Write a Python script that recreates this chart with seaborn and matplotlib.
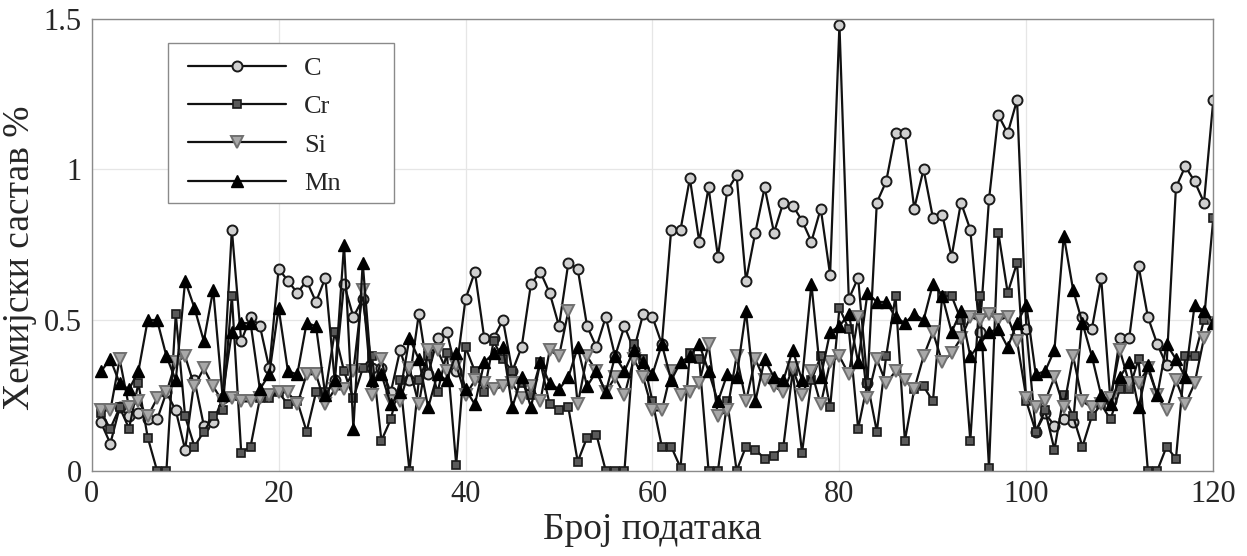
import numpy as np
import pandas as pd
import matplotlib
matplotlib.use("Agg")
import matplotlib.pyplot as plt
from matplotlib.patches import Rectangle
import seaborn as sns

# Sample index (x axis)
sample = list(range(1, 121))

# Chemical composition, % per sample
carbon = [
    0.16, 0.09, 0.21, 0.18, 0.19, 0.17, 0.17, 0.26, 0.20, 0.07,
    0.30, 0.15, 0.16, 0.24, 0.80, 0.43, 0.51, 0.48, 0.34, 0.67,
    0.63, 0.59, 0.63, 0.56, 0.64, 0.30, 0.62, 0.51, 0.57, 0.34,
    0.34, 0.26, 0.40, 0.30, 0.52, 0.32, 0.44, 0.46, 0.33, 0.57,
    0.66, 0.44, 0.44, 0.50, 0.33, 0.41, 0.62, 0.66, 0.59, 0.48,
    0.69, 0.67, 0.48, 0.41, 0.51, 0.38, 0.48, 0.40, 0.52, 0.51,
    0.42, 0.80, 0.80, 0.97, 0.76, 0.94, 0.71, 0.93, 0.98, 0.63,
    0.79, 0.94, 0.79, 0.89, 0.88, 0.83, 0.76, 0.87, 0.65, 1.48,
    0.57, 0.64, 0.29, 0.89, 0.96, 1.12, 1.12, 0.87, 1.00, 0.84,
    0.85, 0.71, 0.89, 0.80, 0.46, 0.90, 1.18, 1.12, 1.23, 0.47,
    0.13, 0.19, 0.15, 0.17, 0.16, 0.51, 0.47, 0.64, 0.23, 0.44,
    0.44, 0.68, 0.51, 0.42, 0.35, 0.94, 1.01, 0.96, 0.89, 1.23,
]
chromium = [
    0.19, 0.14, 0.21, 0.14, 0.29, 0.11, 0.00, 0.00, 0.52, 0.18,
    0.08, 0.13, 0.18, 0.20, 0.58, 0.06, 0.08, 0.24, 0.24, 0.26,
    0.22, 0.23, 0.13, 0.26, 0.26, 0.46, 0.33, 0.24, 0.34, 0.38,
    0.10, 0.17, 0.30, 0.00, 0.30, 0.38, 0.26, 0.39, 0.02, 0.41,
    0.33, 0.26, 0.43, 0.37, 0.33, 0.29, 0.25, 0.36, 0.22, 0.20,
    0.21, 0.03, 0.11, 0.12, 0.00, 0.00, 0.00, 0.42, 0.37, 0.23,
    0.08, 0.08, 0.01, 0.39, 0.37, 0.00, 0.00, 0.23, 0.00, 0.08,
    0.07, 0.04, 0.05, 0.08, 0.33, 0.06, 0.30, 0.38, 0.21, 0.54,
    0.47, 0.14, 0.29, 0.13, 0.38, 0.58, 0.10, 0.27, 0.28, 0.23,
    0.58, 0.58, 0.50, 0.10, 0.58, 0.01, 0.79, 0.59, 0.69, 0.23,
    0.13, 0.20, 0.07, 0.25, 0.18, 0.08, 0.18, 0.22, 0.17, 0.27,
    0.27, 0.37, 0.00, 0.00, 0.08, 0.04, 0.38, 0.38, 0.50, 0.84,
]
silicon = [
    0.20, 0.20, 0.37, 0.21, 0.23, 0.18, 0.24, 0.26, 0.36, 0.38,
    0.28, 0.34, 0.28, 0.23, 0.24, 0.23, 0.23, 0.24, 0.25, 0.26,
    0.26, 0.22, 0.32, 0.32, 0.22, 0.27, 0.27, 0.33, 0.60, 0.25,
    0.37, 0.23, 0.23, 0.34, 0.22, 0.40, 0.40, 0.33, 0.35, 0.25,
    0.30, 0.29, 0.27, 0.28, 0.29, 0.24, 0.28, 0.23, 0.40, 0.38,
    0.53, 0.22, 0.38, 0.33, 0.26, 0.31, 0.25, 0.37, 0.31, 0.20,
    0.20, 0.33, 0.25, 0.26, 0.29, 0.42, 0.18, 0.20, 0.38, 0.23,
    0.37, 0.30, 0.28, 0.26, 0.34, 0.25, 0.33, 0.22, 0.36, 0.38,
    0.32, 0.51, 0.24, 0.37, 0.29, 0.33, 0.30, 0.27, 0.38, 0.46,
    0.36, 0.39, 0.44, 0.51, 0.50, 0.52, 0.50, 0.51, 0.43, 0.24,
    0.21, 0.23, 0.31, 0.21, 0.38, 0.23, 0.21, 0.22, 0.24, 0.40,
    0.29, 0.29, 0.34, 0.25, 0.20, 0.30, 0.22, 0.29, 0.44, 0.49,
]
manganese = [
    0.33, 0.37, 0.29, 0.27, 0.33, 0.50, 0.50, 0.38, 0.30, 0.63,
    0.54, 0.43, 0.60, 0.25, 0.46, 0.49, 0.49, 0.27, 0.32, 0.54,
    0.33, 0.32, 0.49, 0.48, 0.25, 0.30, 0.75, 0.14, 0.69, 0.30,
    0.32, 0.22, 0.26, 0.44, 0.37, 0.21, 0.32, 0.30, 0.39, 0.27,
    0.22, 0.36, 0.39, 0.41, 0.21, 0.31, 0.21, 0.36, 0.29, 0.27,
    0.31, 0.41, 0.28, 0.33, 0.26, 0.38, 0.33, 0.40, 0.36, 0.32,
    0.42, 0.30, 0.36, 0.38, 0.42, 0.33, 0.23, 0.32, 0.31, 0.53,
    0.23, 0.37, 0.31, 0.30, 0.40, 0.30, 0.62, 0.31, 0.46, 0.48,
    0.52, 0.36, 0.59, 0.56, 0.56, 0.51, 0.49, 0.52, 0.50, 0.62,
    0.58, 0.46, 0.53, 0.38, 0.42, 0.46, 0.47, 0.41, 0.49, 0.55,
    0.32, 0.33, 0.40, 0.78, 0.60, 0.49, 0.38, 0.25, 0.22, 0.31,
    0.36, 0.21, 0.35, 0.25, 0.42, 0.37, 0.31, 0.55, 0.53, 0.49,
]

series_names = ["C", "Cr", "Si", "Mn"]
x_ticks = [0, 20, 40, 60, 80, 100, 120]
y_ticks = [0, 0.5, 1, 1.5]
y_tick_labels = ["0", "0.5", "1", "1.5"]

df = pd.DataFrame({"sample": sample, "C": carbon, "Cr": chromium,
                   "Si": silicon, "Mn": manganese})

sns.set_theme(style="white")
plt.rcParams["font.family"] = ["Liberation Serif", "DejaVu Serif"]

fig = plt.figure(figsize=(12.47, 5.56), dpi=100)
ax = fig.add_axes([0.0735, 0.1534, 0.8995, 0.813])

styles = {
    "C":  dict(marker="o", markersize=7.2, markerfacecolor="#d0d0d0",
               markeredgecolor="#1a1a1a", markeredgewidth=1.4),
    "Cr": dict(marker="s", markersize=6.2, markerfacecolor="#5a5a5a",
               markeredgecolor="#1a1a1a", markeredgewidth=1.2),
    "Si": dict(marker="v", markersize=8.5, markerfacecolor="#a8a8a8",
               markeredgecolor="#707070", markeredgewidth=1.4),
    "Mn": dict(marker="^", markersize=8.5, markerfacecolor="#000000",
               markeredgecolor="#000000", markeredgewidth=1.0),
}

for name in series_names:
    sns.lineplot(data=df, x="sample", y=name, ax=ax, color="#111111",
                 linewidth=1.6, label=name, **styles[name])

ax.set_xlim(0, 120)
ax.set_ylim(0, 1.5)
ax.set_xticks(x_ticks)
ax.set_yticks(y_ticks)
ax.set_yticklabels(y_tick_labels)
ax.tick_params(axis="both", direction="in", length=6, width=0.8,
               color="#808080", labelsize=22, pad=7)
ax.grid(True, color="#e6e6e6", linewidth=0.9)
ax.set_axisbelow(True)
for sp in ax.spines.values():
    sp.set_color("#8a8a8a")
    sp.set_linewidth(1.0)

ax.set_xlabel("Број података", fontsize=27, labelpad=2)
ax.set_ylabel("Хемијски састав %", fontsize=27)
ax.yaxis.set_label_coords(-0.049, 0.472)

# Legend entries (frame drawn separately as a fixed box)
leg = ax.legend(loc="center left", bbox_to_anchor=(0.0859, 0.763),
                fontsize=19, frameon=False, handlelength=3.7,
                handletextpad=0.7, labelspacing=0.56,
                borderpad=0.0, borderaxespad=0.0)
leg.set_zorder(6)
frame = Rectangle((0.068, 0.5923), 0.2015, 0.354, transform=ax.transAxes,
                  facecolor="white", edgecolor="#8a8a8a", linewidth=1.0,
                  zorder=5)
ax.add_patch(frame)

fig.savefig("out.png", dpi=100)
